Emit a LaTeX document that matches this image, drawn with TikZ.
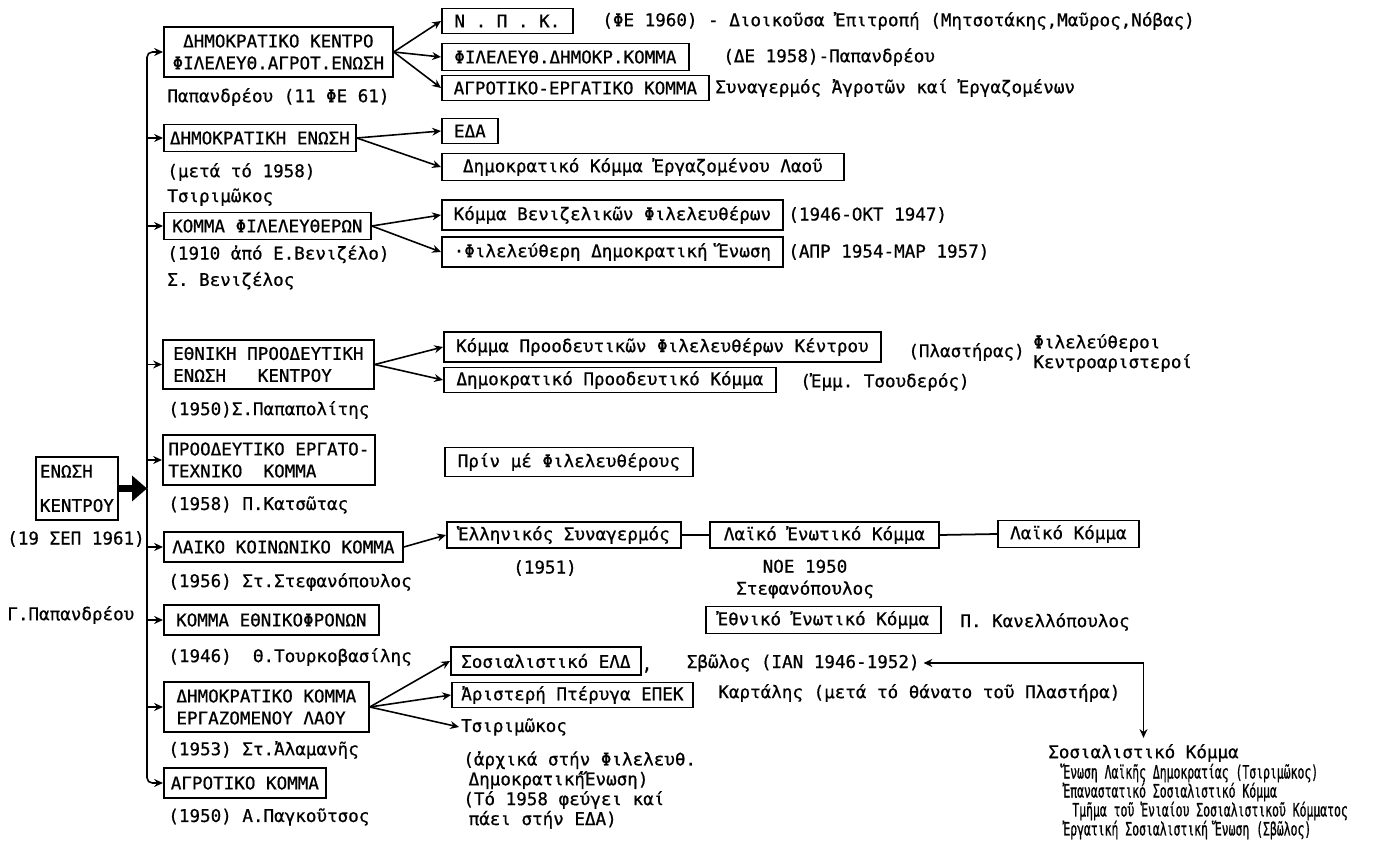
\documentclass[tikz,border=0pt]{standalone}
\usepackage{fontspec}
\setmonofont[FakeBold=0.7]{DejaVu Sans Mono}
\newfontfamily\narrowtt[FakeStretch=0.62,FakeBold=0.7]{DejaVu Sans Mono}
\usetikzlibrary{arrows.meta}
\begin{document}
\begin{tikzpicture}[
        font=\ttfamily\fontsize{10}{12.5}\selectfont,
        box/.style={draw, line width=1pt, anchor=west, inner sep=2pt, minimum height=0.54cm},
        lbl/.style={anchor=west, inner sep=0pt},
        arr/.style={line width=0.9pt, -{Stealth[length=5pt,width=4.5pt]}}
    ]
        \useasboundingbox (0,0) rectangle (27.56,16.88);

        \node[box, align=left, minimum width=1.64cm, minimum height=1.26cm] (ek) at (0.70,7.11) {ΕΝΩΣΗ\\[7pt]ΚΕΝΤΡΟΥ};
        \node (ekd) at (1.52,6.10) {(19 ΣΕΠ 1961)};
        \node[lbl] (gp) at (0.14,4.58) {Γ.Παπανδρέου};
        \coordinate (v) at (2.94,7.11);
        \draw[line width=4.5pt, -{Triangle[length=0.3cm,width=0.5cm]}] (ek) -- (v);

        \node[box, align=center, minimum width=4.58cm, minimum height=1cm] (dk) at (3.26,15.84) {ΔΗΜΟΚΡΑΤΙΚΟ ΚΕΝΤΡΟ\\ΦΙΛΕΛΕΥΘ.ΑΓΡΟΤ.ΕΝΩΣΗ};
        \node[lbl] (dkd) at (3.34,14.94) {Παπανδρέου (11 ΦΕ 61)};
        \node[box, minimum width=3.84cm] (de) at (3.26,14.12) {ΔΗΜΟΚΡΑΤΙΚΗ ΕΝΩΣΗ};
        \node[lbl, align=left] (ded) at (3.34,13.19) {(μετά τό 1958)\\[1.7pt]Τσιριμῶκος};
        \node[box, minimum width=4.14cm] (kf) at (3.26,12.36) {ΚΟΜΜΑ ΦΙΛΕΛΕΥΘΕΡΩΝ};
        \node[lbl, align=left] (kfd) at (3.34,11.53) {(1910 ἀπό Ε.Βενιζέλο)\\[2.5pt]Σ. Βενιζέλος};
        \node[box, align=left, minimum width=4.22cm, minimum height=0.98cm] (epek) at (3.24,9.59) {ΕΘΝΙΚΗ ΠΡΟΟΔΕΥΤΙΚΗ\\ΕΝΩΣΗ\ \ \ ΚΕΝΤΡΟΥ};
        \node[lbl] (epekd) at (3.36,8.68) {(1950)Σ.Παπαπολίτης};
        \node[box, align=left, minimum width=4.24cm, minimum height=1cm] (pek) at (3.24,7.68) {ΠΡΟΟΔΕΥΤΙΚΟ ΕΡΓΑΤΟ-\\ΤΕΧΝΙΚΟ\ \ ΚΟΜΜΑ};
        \node[lbl] (pekd) at (3.36,6.78) {(1958) Π.Κατσῶτας};
        \node[box, minimum width=4.78cm, minimum height=0.6cm] (lkk) at (3.26,5.94) {ΛΑΙΚΟ ΚΟΙΝΩΝΙΚΟ ΚΟΜΜΑ};
        \node[lbl] (lkkd) at (3.36,5.24) {(1956) Στ.Στεφανόπουλος};
        \node[box, minimum width=4.3cm, minimum height=0.6cm] (ke) at (3.26,4.48) {ΚΟΜΜΑ ΕΘΝΙΚΟΦΡΟΝΩΝ};
        \node[lbl] (ked) at (3.36,3.74) {(1946)\ \ Θ.Τουρκοβασίλης};
        \node[box, align=left, minimum width=4.1cm, minimum height=1cm] (dkel) at (3.26,2.74) {ΔΗΜΟΚΡΑΤΙΚΟ ΚΟΜΜΑ\\ΕΡΓΑΖΟΜΕΝΟΥ ΛΑΟΥ};
        \node[lbl] (dkeld) at (3.36,1.88) {(1953) Στ.Ἀλαμανῆς};
        \node[box, minimum width=3.24cm, minimum height=0.6cm] (ak) at (3.26,1.22) {ΑΓΡΟΤΙΚΟ ΚΟΜΜΑ};
        \node[lbl] (akd) at (3.36,0.54) {(1950) Α.Παγκοῦτσος};

        \draw[arr, rounded corners=3pt] (v) |- (dk.west);
        \draw[arr, rounded corners=3pt] (v) |- (ak.west);
        \draw[arr] (v |- de.west) -- (de.west);
        \draw[arr] (v |- kf.west) -- (kf.west);
        \draw[arr] (v |- epek.west) -- (epek.west);
        \draw[arr] (v |- pek.west) -- (pek.west);
        \draw[arr] (v |- lkk.west) -- (lkk.west);
        \draw[arr] (v |- ke.west) -- (ke.west);
        \draw[arr] (v |- dkel.west) -- (dkel.west);

        \node[box, minimum width=2.62cm, minimum height=0.5cm] (npk) at (8.82,16.46) {Ν . Π . Κ.};
        \node[lbl] (npkd) at (12.04,16.46) {(ΦΕ 1960) - Διοικοῦσα Ἐπιτροπή (Μητσοτάκης,Μαῦρος,Νόβας)};
        \node[box, minimum width=4.94cm] (fdk) at (8.82,15.74) {ΦΙΛΕΛΕΥΘ.ΔΗΜΟΚΡ.ΚΟΜΜΑ};
        \node[lbl] (fdkd) at (14.46,15.74) {(ΔΕ 1958)-Παπανδρέου};
        \node[box, minimum width=5.34cm, minimum height=0.5cm] (aek) at (8.82,15.12) {ΑΓΡΟΤΙΚΟ-ΕΡΓΑΤΙΚΟ ΚΟΜΜΑ};
        \node[lbl] (aekd) at (14.3,15.12) {Συναγερμός Ἀγροτῶν καί Ἐργαζομένων};
        \draw[arr] (dk.east) -- (npk.west);
        \draw[arr] (dk.east) -- (fdk.west);
        \draw[arr] (dk.east) -- (aek.west);

        \node[box, minimum width=1.12cm, minimum height=0.5cm] (eda) at (8.82,14.26) {ΕΔΑ};
        \node[box, minimum width=8.04cm] (dkelb) at (8.82,13.54) {Δημοκρατικό Κόμμα Ἐργαζομένου Λαοῦ};
        \draw[arr] (de.east) -- (eda.west);
        \draw[arr] (de.east) -- (dkelb.west);

        \node[box, minimum width=6.82cm, minimum height=0.6cm] (kbf) at (8.82,12.58) {Κόμμα Βενιζελικῶν Φιλελευθέρων};
        \node[lbl] (kbfd) at (15.76,12.58) {(1946-ΟΚΤ 1947)};
        \node[box, minimum width=6.82cm, minimum height=0.6cm] (fde) at (8.82,11.84) {·Φιλελεύθερη Δημοκρατική Ἕνωση};
        \node[lbl] (fded) at (15.76,11.84) {(ΑΠΡ 1954-ΜΑΡ 1957)};
        \draw[arr] (kf.east) -- (kbf.west);
        \draw[arr] (kf.east) -- (fde.west);

        \node[box, minimum width=8.74cm, minimum height=0.6cm] (kpfk) at (8.86,9.94) {Κόμμα Προοδευτικῶν Φιλελευθέρων Κέντρου};
        \node[lbl] (kpfkd) at (18.16,9.84) {(Πλαστήρας)};
        \node[lbl, align=left] (fk) at (20.66,9.82) {Φιλελεύθεροι\\[-1.2pt]Κεντροαριστεροί};
        \node[box, minimum width=6.64cm, minimum height=0.5cm] (dpk) at (8.86,9.28) {Δημοκρατικό Προοδευτικό Κόμμα};
        \node[lbl] (dpkd) at (16.0,9.24) {(Ἐμμ. Τσουδερός)};
        \draw[arr] (epek.east) -- (kpfk.west);
        \draw[arr] (epek.east) -- (dpk.west);

        \node[box, minimum width=4.96cm, minimum height=0.58cm] (pmf) at (8.88,7.64) {Πρίν μέ Φιλελευθέρους};

        \node[box, minimum width=4.68cm, minimum height=0.52cm] (es) at (8.92,6.18) {Ἑλληνικός Συναγερμός};
        \node (esd) at (10.9,5.52) {(1951)};
        \node[box, minimum width=4.58cm, minimum height=0.52cm] (lek) at (14.18,6.18) {Λαϊκό Ἐνωτικό Κόμμα};
        \node[align=center] (lekd) at (16.1,5.3) {ΝΟΕ 1950\\Στεφανόπουλος};
        \node[box, minimum width=2.82cm] (lk) at (19.94,6.2) {Λαϊκό Κόμμα};
        \draw[arr] (lkk.east) -- (es.west);
        \draw[line width=1pt] (es.east) -- (lek.west);
        \draw[line width=1pt] (lek.east) -- (lk.west);

        \node[box, minimum width=4.7cm] (eek) at (14.1,4.48) {Ἐθνικό Ἐνωτικό Κόμμα};
        \node[lbl] (eekd) at (19.2,4.44) {Π. Κανελλόπουλος};

        \node[box, minimum width=3.8cm, minimum height=0.56cm] (sel) at (9.0,3.66) {Σοσιαλιστικό ΕΛΔ};
        \node (selc) at (12.94,3.48) {,};
        \node[lbl, inner xsep=2pt] (sv) at (13.66,3.62) {Σβῶλος (ΙΑΝ 1946-1952)};
        \node[box, minimum width=4.82cm, minimum height=0.5cm] (ape) at (9.02,2.98) {Ἀριστερή Πτέρυγα ΕΠΕΚ};
        \node[lbl] (aped) at (14.36,3.02) {Καρτάλης (μετά τό θάνατο τοῦ Πλαστήρα)};
        \node[lbl, inner xsep=1pt] (ts) at (9.18,2.34) {Τσιριμῶκος};
        \node[lbl, align=left] (tsd) at (9.26,1.08) {(ἀρχικά στήν Φιλελευθ.\\[-1.2pt]\hspace*{3pt}ΔημοκρατικήἝνωση)\\[-1.2pt](Τό 1958 φεύγει καί\\[-1.2pt]\hspace*{3pt}πάει στήν ΕΔΑ)};
        \draw[arr] (dkel.east) -- (sel.west);
        \draw[arr] (dkel.east) -- (ape.west);
        \draw[arr] (dkel.east) -- (ts.west);

        \node (sk) at (22.87,1.82) {Σοσιαλιστικό Κόμμα};
        \node[lbl, align=left, font=\narrowtt\fontsize{10.5}{10.8}\selectfont] (skl) at (21.26,0.85) {Ἕνωση Λαϊκῆς Δημοκρατίας (Τσιριμῶκος)\\Ἐπαναστατικό Σοσιαλιστικό Κόμμα\\\hspace*{0.18cm}Τμῆμα τοῦ Ἑνιαίου Σοσιαλιστικοῦ Κόμματος\\Ἐργατική Σοσιαλιστική Ἕνωση (Σβῶλος)};
        \coordinate (c) at (sv.east -| sk.north);
        \draw[arr] (c) -- (sv.east);
        \draw[arr] (c) -- (sk.north);
\end{tikzpicture}
\end{document}
